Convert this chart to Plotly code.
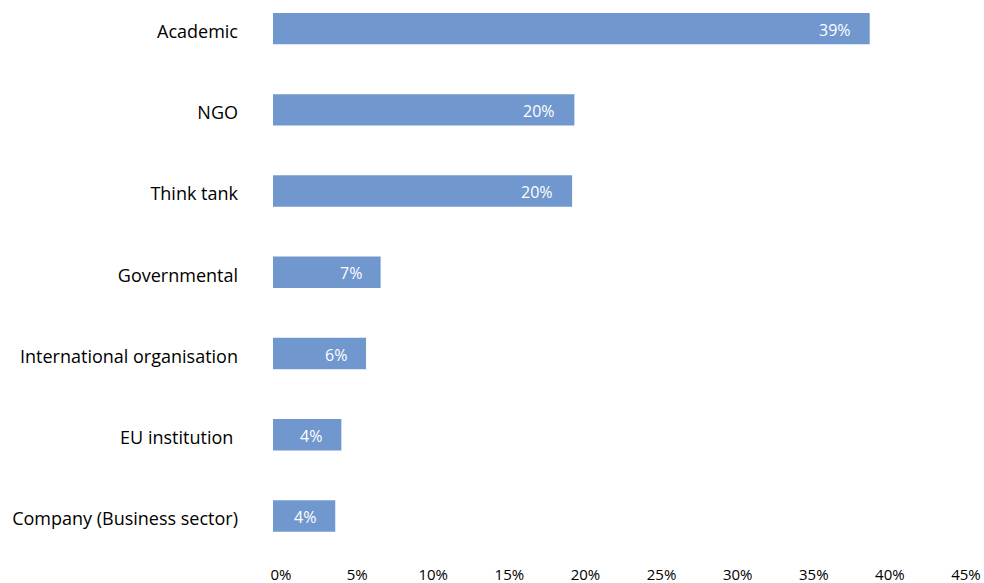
import plotly.graph_objects as go

# Share of respondents by organisation type
categories = [
    "Academic",
    "NGO",
    "Think tank",
    "Governmental",
    "International organisation",
    "EU institution\u00a0",
    "Company (Business sector)",
]
shares = [0.392, 0.198, 0.1965, 0.0707, 0.0611, 0.0449, 0.0409]

x_ticks = [0, 0.05, 0.10, 0.15, 0.20, 0.25, 0.30, 0.35, 0.40, 0.45]
x_tick_labels = ["0%", "5%", "10%", "15%", "20%", "25%", "30%", "35%", "40%", "45%"]

BAR_COLOR = "#7097CE"
FONT = "'Open Sans', Lato, sans-serif"

fig = go.Figure(
    go.Bar(
        x=shares,
        y=categories,
        orientation="h",
        marker=dict(color=BAR_COLOR, line=dict(width=0)),
        width=0.385,
        hoverinfo="skip",
    )
)

# Value labels just inside the end of each bar
for cat, val in zip(categories, shares):
    fig.add_annotation(
        x=val,
        y=cat,
        text=f"{val * 100:.0f}%",
        showarrow=False,
        xanchor="right",
        yanchor="middle",
        xshift=-17,
        yshift=-1,
        font=dict(family=FONT, size=16, color="white"),
    )

fig.update_layout(
    width=984,
    height=583,
    margin=dict(l=273, r=26, t=0, b=23),
    paper_bgcolor="white",
    plot_bgcolor="white",
    showlegend=False,
    font=dict(family=FONT, size=18, color="#000000"),
    xaxis=dict(
        range=[0, 0.45],
        tickvals=x_ticks,
        ticktext=x_tick_labels,
        showgrid=False,
        zeroline=False,
        showline=False,
        ticks="",
        ticklabelshift=8,
        ticklabelstandoff=4,
        tickfont=dict(family=FONT, size=15, color="#000000"),
        fixedrange=True,
    ),
    yaxis=dict(
        type="category",
        categoryorder="array",
        categoryarray=categories,
        range=[6.5415, -0.351],
        showgrid=False,
        zeroline=False,
        showline=False,
        ticks="",
        ticklabelstandoff=34,
        ticklabelshift=-3,
        tickfont=dict(family=FONT, size=18, color="#000000"),
        fixedrange=True,
    ),
)

fig.write_html("out.html")
